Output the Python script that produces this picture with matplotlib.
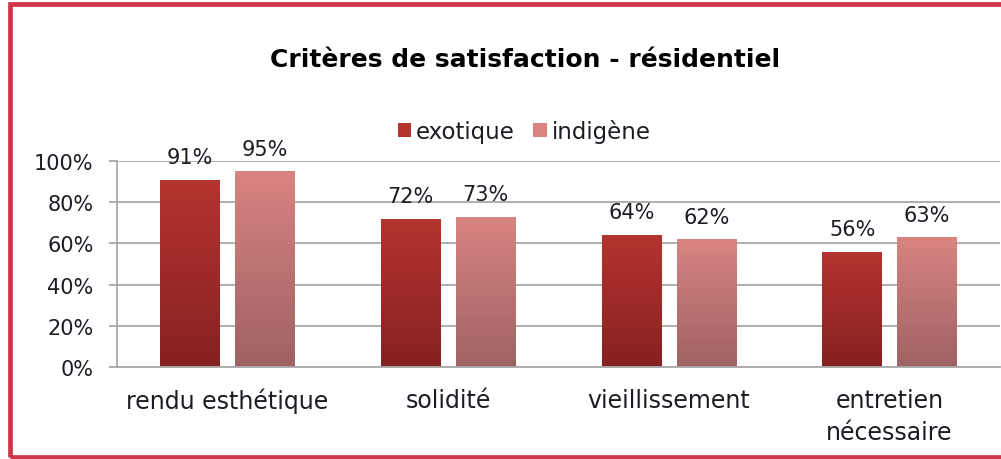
import matplotlib.pyplot as plt
import numpy as np
from matplotlib.colors import LinearSegmentedColormap
from matplotlib.patches import Rectangle, Patch

# Data
categories = ["rendu esthétique", "solidité", "vieillissement", "entretien\nnécessaire"]
exotique = [0.91, 0.72, 0.64, 0.56]
indigene = [0.95, 0.73, 0.62, 0.63]
series_names = ["exotique", "indigène"]

# colours (top, bottom) of the gradient
exo_cols = ("#b5342f", "#862121")
ind_cols = ("#d98482", "#9e6262")
text_col = "#1c1c24"
grid_col = "#a8a8a8"

plt.rcParams['font.family'] = ['DejaVu Sans']

fig = plt.figure(figsize=(10.01, 4.6), dpi=100)
ax = fig.add_axes([117 / 1001, 1 - 368 / 460, 883 / 1001, 206 / 460])

x = np.arange(len(categories))
w = 0.27
off = 0.17


def gradient_bars(xpos, vals, cols):
    bars = ax.bar(xpos, vals, w, color=cols[0], zorder=2)
    cmap = LinearSegmentedColormap.from_list("g", [cols[1], cols[0]])
    grad = np.linspace(0, 1, 256).reshape(-1, 1)
    for b in bars:
        b.set_facecolor("none")
        bx, by = b.get_x(), b.get_y()
        im = ax.imshow(grad, cmap=cmap, aspect="auto", origin="lower",
                       extent=(bx, bx + b.get_width(), by, by + b.get_height()),
                       zorder=2)
        im.set_clip_path(b)
    return bars


b1 = gradient_bars(x - off, exotique, exo_cols)
b2 = gradient_bars(x + off, indigene, ind_cols)

for bars, vals in ((b1, exotique), (b2, indigene)):
    for b, v in zip(bars, vals):
        ax.annotate(f"{v:.0%}", (b.get_x() + b.get_width() / 2, v),
                    xytext=(0, 12), textcoords="offset points",
                    ha="center", va="baseline", fontsize=15, color=text_col)

ax.set_xlim(-0.5, len(categories) - 0.5)
ax.set_ylim(0, 1)
ax.set_yticks(np.arange(0, 1.01, 0.2))
ax.set_yticklabels([f"{int(round(t * 100))}%" for t in np.arange(0, 1.01, 0.2)])
ax.set_xticks(x)
ax.set_xticklabels(categories, linespacing=1.45)
ax.tick_params(axis="y", length=6, color=grid_col, width=1.3, pad=11,
               labelsize=15, labelcolor=text_col)
ax.tick_params(axis="x", length=0, pad=15, labelsize=17, labelcolor=text_col)
ax.grid(axis="y", color=grid_col, linewidth=1.3, zorder=0)
ax.set_axisbelow(True)
for s in ("top", "right"):
    ax.spines[s].set_visible(False)
for s in ("left", "bottom"):
    ax.spines[s].set_color(grid_col)
    ax.spines[s].set_linewidth(1.3)

handles = [Patch(facecolor=exo_cols[0], edgecolor="none"),
           Patch(facecolor=ind_cols[0], edgecolor="none")]
fig.legend(handles, series_names, loc="center", bbox_to_anchor=(524 / 1001, 1 - 132 / 460),
           ncol=2, frameon=False, fontsize=16.5, handlelength=0.6, handleheight=0.6,
           handletextpad=0.2, columnspacing=0.8, labelcolor=text_col)

fig.text(525 / 1001, 1 - 60 / 460, "Critères de satisfaction - résidentiel",
         ha="center", va="center", fontsize=18, fontweight="bold", color="black")

# red frame around the chart
fig.patches.append(Rectangle((9.5 / 1001, 2.5 / 460), 1.05, 452.5 / 460,
                             transform=fig.transFigure, fill=False,
                             edgecolor="#d0364a", linewidth=3.4))

fig.savefig("out.png", dpi=100)
